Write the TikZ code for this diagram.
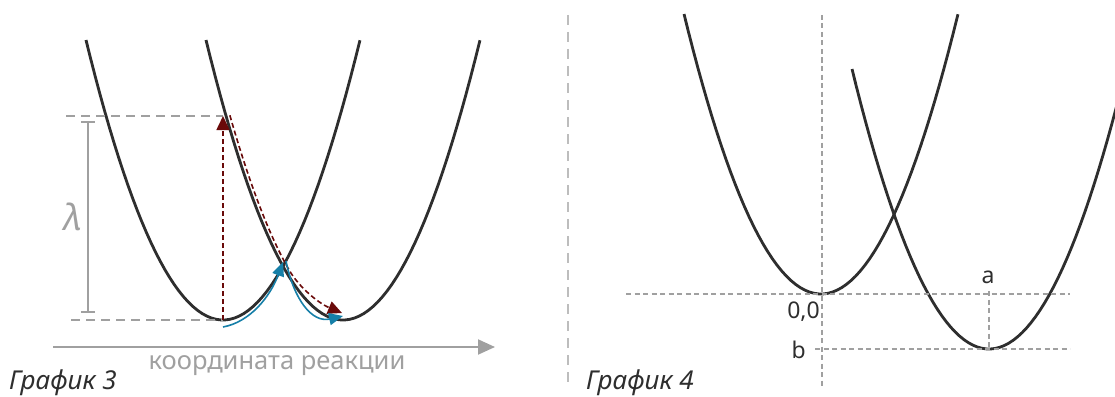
\documentclass[tikz,border=0pt]{standalone}
\usepackage{fontspec}
\setmainfont{Noto Sans}
\usetikzlibrary{arrows.meta}
\definecolor{curvegray}{HTML}{2E2E2E}
\definecolor{guidegray}{HTML}{A0A0A0}
\definecolor{lightgray}{HTML}{BDBDBD}
\definecolor{darkred}{HTML}{6A0A0A}
\definecolor{tealblue}{HTML}{167FA8}

\begin{document}
\begin{tikzpicture}[x=1pt,y=-1pt,
  curve/.style={draw=curvegray,line width=2.8pt},
  guide/.style={draw=guidegray,line width=1.6pt,dash pattern=on 9pt off 6pt},
  fine/.style={draw=guidegray,line width=1.3pt,dash pattern=on 5pt off 3.5pt},
  redpath/.style={draw=darkred,line width=1.6pt,dash pattern=on 5pt off 3pt,
    -{Triangle[length=14pt,width=13pt]}},
  bluepath/.style={draw=tealblue,line width=1.6pt,
    -{Triangle[length=14pt,width=12pt]}},
  caption/.style={font=\fontsize{26}{30}\selectfont\itshape,text=curvegray,inner sep=0pt},
  label/.style={font=\fontsize{23}{27}\selectfont,text=curvegray,inner sep=0pt}]
\useasboundingbox (0,0) rectangle (1115,396);

% wells
\foreach \vx/\vy/\tmax in {223/320/1, 343/320/1, 821/294/1, 989/349/0.93} {
  \draw[curve] plot[domain=-1:\tmax,samples=60,variable=\t]
    ({\vx+137*\t},{\vy-280*\t*\t});
}

% graph 3
\coordinate (lo) at (223,320);
\coordinate (hi) at (223,116);
\coordinate (cross) at (284,266);
\coordinate (rmin) at (343,320);
\draw[guide] (66,116) -- (hi);
\draw[guide] (71,320) -- (lo);
\draw[draw=guidegray,line width=1.8pt,{Bar[width=14pt]}-{Bar[width=14pt]}] (88,121) -- (88,313);
\node[text=guidegray,font=\fontsize{36}{40}\selectfont\itshape,inner sep=0pt] (lam) at (73,217) {λ};

\draw[redpath] (lo) -- (hi);
\draw[redpath] plot[domain=-0.855:-0.42,samples=30,variable=\t]
  ({347+137*\t},{320-280*\t*\t}) .. controls (299,287) and (318,303) .. (342,313);
\draw[bluepath] (223,327) .. controls (250,322) and (270,297) .. ([xshift=-1pt,yshift=4pt]cross);
\draw[bluepath] ([xshift=2pt,yshift=5pt]cross) .. controls (294,300) and (312,323) .. ([yshift=4pt]rmin);

\draw[draw=guidegray,line width=2pt,-{Triangle[length=17pt,width=15pt]}] (53,347) -- (495,347);
\node[text=guidegray,font=\fontsize{25.5}{30}\selectfont,inner sep=0pt,anchor=base] (axis) at (277,369) {координата реакции};
\node[caption,anchor=base west] (g3) at (9,389) {График 3};

% graph 4
\draw[draw=lightgray,line width=1.2pt,dash pattern=on 10pt off 7pt] (568,15) -- (568,385);
\draw[fine] (822,15) -- (822,388);
\draw[fine] (626,294) -- (1070,294);
\draw[fine] (815,349) -- (1070,349);
\draw[fine] (989,291) -- (989,349);
\node[label,anchor=base] (a) at (988,283) {a};
\node[label,anchor=base east] (zero) at (820,318) {0,0};
\node[label,anchor=base east] (b) at (806,358) {b};
\node[caption,anchor=base west] (g4) at (586,389) {График 4};
\end{tikzpicture}
\end{document}
